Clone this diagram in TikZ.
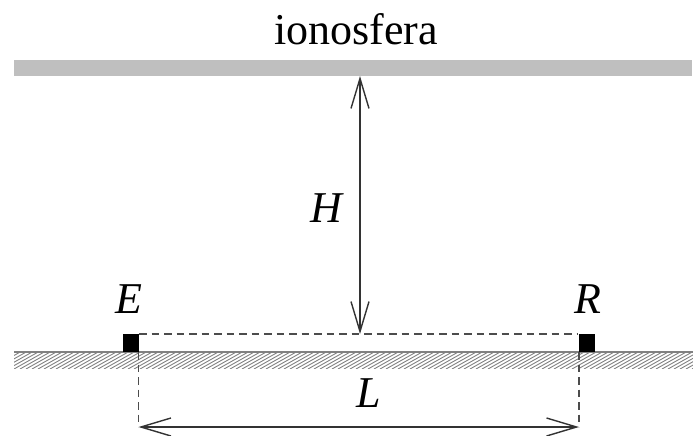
\documentclass[tikz,border=0pt]{standalone}
\usepackage{fontspec}
\setmainfont{Liberation Serif}
\usetikzlibrary{arrows.meta}
\tikzset{
  dim/.style={draw=black!80, line width=1.4pt, {Straight Barb[length=30pt,width=18pt]}-{Straight Barb[length=30pt,width=18pt]}},
  guide/.style={draw=black!70, line width=1.4pt, dash pattern=on 7.5pt off 5pt},
  station/.style={fill=black, draw=none, inner sep=0pt, minimum width=16pt, minimum height=18pt},
  lbl/.style={inner sep=0pt, font=\fontsize{44}{50}\selectfont},
  hatchline/.style={draw=black!50, line width=0.9pt}
}
\begin{document}
\begin{tikzpicture}[x=1pt,y=-1pt]
\useasboundingbox (0,0) rectangle (693,436);
% ionosphere
\node (iono) [fill=black!25, draw=none, inner sep=0pt, minimum width=678pt, minimum height=16pt, anchor=north west] at (14,60) {};
\node (ionolbl) [lbl, anchor=base] at (356,45) {ionosfera};
% ground
\begin{scope}
\clip (14,352) rectangle (693,368);
\foreach \i in {0,...,125} {
  \draw[hatchline] ({\i*6-16},369) -- ({\i*6+16},351);
}
\end{scope}
\coordinate (gl) at (14,352);
\coordinate (gr) at (693,352);
\draw[draw=black!50, line width=1.2pt] (gl) -- (gr);
% stations
\node (Esq) [station] at (131,343) {};
\node (Rsq) [station] at (586.5,343) {};
\node (Elbl) [lbl, anchor=base] at (128.5,313) {\itshape E};
\node (Rlbl) [lbl, anchor=base] at (588,313) {\itshape R};
% dashed baseline
\draw[guide] (Esq.north east) -- (Rsq.north west);
% H arrow
\coordinate (Htop) at (360,76);
\coordinate (Hbot) at (360,334);
\draw[dim] (Htop) -- (Hbot);
\node (Hlbl) [lbl, anchor=base] at (326,222) {\itshape H};
% L
\coordinate (Ltop) at (138.5,352);
\coordinate (Lbot) at (138.5,427);
\coordinate (Rtop) at (579,352);
\coordinate (Rbot) at (579,427);
\draw[guide] (Ltop) -- (Lbot);
\draw[guide] (Rtop) -- (Rbot);
\draw[dim] (Lbot) -- (Rbot);
\node (Llbl) [lbl, anchor=base] at (369,407) {\itshape L};
\end{tikzpicture}
\end{document}
